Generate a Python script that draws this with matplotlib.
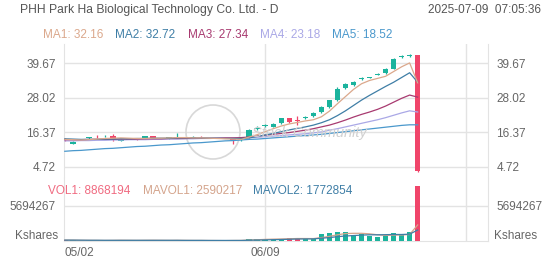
import matplotlib
matplotlib.use("Agg")
import matplotlib.pyplot as plt
import numpy as np
from matplotlib.patches import Circle

plt.rcParams['font.family'] = ['Liberation Sans', 'DejaVu Sans']

# ---------------- data ----------------
title = "PHH Park Ha Biological Technology Co. Ltd. - D"
stamp = "2025-07-09  07:05:36"
date_labels = ["05/02", "06/09"]
date_label_idx = [0, 25]

opens = [14.2, 12.5, 14.0, 14.4, 15.2, 15.1, 15.2, 13.6, 14.0, 14.1,
         14.1, 15.0, 14.4, 14.5, 14.7, 14.5, 14.6, 14.9, 14.4, 14.4,
         14.3, 14.1, 13.7, 14.8, 17.6, 18.7, 18.2, 19.4, 21.1, 20.5,
         21.3, 21.8, 23.2, 24.8, 27.4, 31.3, 32.3, 34.3, 34.8, 35.8,
         36.2, 37.7, 41.7, 42.0, 42.4]
highs = [14.6, 13.3, 14.0, 14.9, 15.6, 15.6, 15.9, 14.0, 14.0, 14.4,
         15.1, 15.1, 14.6, 14.9, 16.1, 14.5, 15.0, 15.3, 14.4, 14.4,
         14.3, 14.4, 14.0, 17.4, 18.4, 19.3, 19.6, 21.3, 21.3, 22.0,
         21.9, 23.1, 25.2, 27.4, 31.5, 32.8, 33.5, 34.8, 34.9, 36.4,
         37.9, 41.2, 42.2, 42.6, 42.5]
lows = [13.4, 12.3, 14.0, 14.2, 14.6, 14.7, 13.6, 13.4, 14.0, 13.8,
        14.0, 14.3, 14.3, 14.0, 14.3, 14.5, 14.4, 14.3, 14.4, 14.4,
        14.3, 12.5, 13.5, 14.6, 17.0, 18.3, 18.0, 19.2, 19.5, 19.0,
        21.0, 21.6, 23.0, 24.5, 26.9, 31.0, 32.1, 33.9, 34.7, 35.5,
        36.0, 37.5, 41.3, 41.6, 3.2]
closes = [13.8, 13.1, 14.0, 14.8, 15.1, 15.2, 13.9, 13.9, 14.0, 14.0,
          15.0, 14.4, 14.4, 14.6, 14.8, 14.5, 14.7, 14.7, 14.4, 14.4,
          14.3, 13.9, 13.9, 17.1, 17.8, 18.9, 19.3, 21.1, 19.7, 20.3,
          21.5, 22.9, 25.0, 27.2, 31.0, 32.6, 33.3, 34.5, 34.9, 36.0,
          37.6, 40.9, 41.8, 42.2, 3.3]

ma1 = [14.0, 13.9, 13.8, 13.9, 14.1, 14.3, 14.4, 14.5, 14.4, 14.3,
       14.3, 14.4, 14.4, 14.5, 14.6, 14.6, 14.5, 14.5, 14.4, 14.3,
       14.2, 14.1, 14.0, 14.8, 15.6, 16.6, 17.6, 18.5, 19.2, 19.7,
       20.2, 20.6, 21.6, 23.5, 26.0, 28.4, 30.8, 32.7, 33.8, 34.5,
       35.2, 36.8, 38.4, 39.7, 33.0]
ma2 = [14.2, 14.1, 14.0, 14.0, 14.0, 14.1, 14.1, 14.2, 14.2, 14.3,
       14.3, 14.4, 14.4, 14.4, 14.5, 14.5, 14.5, 14.5, 14.4, 14.4,
       14.3, 14.3, 14.3, 14.5, 15.0, 15.5, 16.0, 16.6, 17.2, 17.7,
       18.2, 18.8, 19.6, 20.6, 22.0, 23.6, 25.4, 27.2, 28.8, 30.3,
       31.8, 33.2, 34.8, 36.4, 33.2]
ma3 = [13.9, 13.9, 13.9, 14.0, 14.0, 14.0, 14.0, 14.1, 14.1, 14.1,
       14.2, 14.2, 14.2, 14.3, 14.3, 14.3, 14.4, 14.4, 14.4, 14.4,
       14.5, 14.5, 14.6, 14.8, 15.1, 15.4, 15.7, 16.0, 16.3, 16.7,
       17.1, 17.6, 18.2, 18.8, 19.6, 20.5, 21.5, 22.4, 23.2, 24.1,
       25.2, 26.5, 27.8, 28.9, 28.2]
ma4 = [13.5, 13.5, 13.6, 13.6, 13.7, 13.7, 13.8, 13.8, 13.9, 13.9,
       13.9, 14.0, 14.0, 14.1, 14.1, 14.2, 14.2, 14.3, 14.3, 14.4,
       14.4, 14.5, 14.5, 14.6, 14.7, 14.9, 15.1, 15.3, 15.5, 15.7,
       15.9, 16.2, 16.5, 17.1, 17.6, 18.2, 18.8, 19.4, 20.0, 20.6,
       21.3, 22.1, 22.9, 23.6, 23.2]
ma5 = [10.0, 10.2, 10.3, 10.5, 10.7, 10.9, 11.0, 11.2, 11.4, 11.6,
       11.7, 11.9, 12.1, 12.2, 12.4, 12.6, 12.8, 12.9, 13.1, 13.3,
       13.5, 13.6, 13.8, 14.0, 14.1, 14.3, 14.5, 14.7, 14.9, 15.1,
       15.3, 15.5, 15.7, 16.0, 16.3, 16.6, 16.9, 17.2, 17.5, 17.8,
       18.1, 18.4, 18.7, 18.9, 18.9]

volumes = [150000, 120000, 20000, 100000, 80000, 90000, 200000, 110000, 20000, 70000,
           130000, 160000, 60000, 90000, 120000, 30000, 80000, 100000, 30000, 30000,
           30000, 140000, 100000, 350000, 300000, 320000, 300000, 400000, 500000, 480000,
           300000, 380000, 1080000, 1240000, 1500000, 1400000, 970000, 1080000, 860000, 700000,
           860000, 1240000, 1080000, 1400000, 8868194]
mavol1 = [150000, 140000, 120000, 110000, 100000, 90000, 100000, 120000, 110000, 100000,
          110000, 120000, 110000, 100000, 110000, 100000, 90000, 90000, 80000, 70000,
          60000, 80000, 90000, 150000, 200000, 260000, 300000, 330000, 360000, 400000,
          400000, 390000, 550000, 750000, 1000000, 1200000, 1240000, 1240000, 1160000, 1000000,
          900000, 950000, 970000, 1050000, 2590217]
mavol2 = [140000, 140000, 130000, 120000, 120000, 110000, 110000, 110000, 110000, 110000,
          110000, 110000, 110000, 110000, 110000, 100000, 100000, 100000, 90000, 90000,
          90000, 90000, 90000, 120000, 150000, 180000, 210000, 240000, 280000, 320000,
          330000, 340000, 450000, 550000, 700000, 800000, 880000, 950000, 1000000, 1000000,
          1020000, 1050000, 1050000, 1100000, 1772854]

price_ticks = [4.72, 16.37, 28.02, 39.67]
vol_tick = 5694267

ma_names = ["MA1: 32.16", "MA2: 32.72", "MA3: 27.34", "MA4: 23.18", "MA5: 18.52"]
vol_names = ["VOL1: 8868194", "MAVOL1: 2590217", "MAVOL2: 1772854"]

# ---------------- style ----------------
UP = "#1bb39d"
DOWN = "#f0456a"
MA_COLORS = ["#dba88c", "#3f7ea6", "#a83a70", "#aaa8e6", "#4a98cc"]
VOL_COLORS = ["#f06a80", "#d4a48c", "#3f7ea6"]
GRID = "#e3e3e3"
TXT = "#666666"

W, H = 552, 265
fig = plt.figure(figsize=(W / 100, H / 100), dpi=100)
fig.patch.set_facecolor("white")


def px_axes(left, top, right, bottom):
    return fig.add_axes([left / W, 1 - bottom / H, (right - left) / W, (bottom - top) / H])


ax = px_axes(64, 44, 488, 178)
axv = px_axes(64, 178, 488, 241)

n = len(closes)
x = np.arange(n)
xlim = (-0.1, 52.77)
bw = 0.7

# ---- price candles ----
for i in range(n):
    o, h, l, c = opens[i], highs[i], lows[i], closes[i]
    col = UP if c >= o else DOWN
    ax.vlines(x[i], l, h, color=col, lw=0.9, zorder=3)
    bh = max(abs(c - o), 0.3)
    ax.bar(x[i], bh, bottom=min(o, c) - (bh - abs(c - o)) / 2, width=bw,
           color=col, edgecolor=col, linewidth=0, zorder=3)

for vals, col in zip([ma5, ma4, ma3, ma2, ma1], MA_COLORS[::-1]):
    ax.plot(x, vals, color=col, lw=0.9, zorder=4)

ax.set_xlim(*xlim)
ax.set_ylim(1.02, 46.06)
ax.set_yticks(price_ticks)
ax.set_yticklabels([f"{v:.2f}" for v in price_ticks])
ax.set_xticks([25, 50])
ax.set_xticklabels([])
ax.grid(True, color=GRID, lw=1)
ax.tick_params(axis="both", length=0, labelsize=8.5, labelcolor=TXT,
               labelleft=True, labelright=True, pad=6)
for s in ["top", "bottom"]:
    ax.spines[s].set_visible(False)
for s in ["left", "right"]:
    ax.spines[s].set_color(GRID)

# watermark
ax.add_patch(Circle((213, H - 132), 27, transform=None, fill=False,
                    edgecolor="#d8d8d8", lw=1.2, zorder=2))
fig.text(367 / W, 1 - 133 / H, "Stock Community", ha="right", va="center",
         fontsize=10.5, color="#d0d0d0", style="italic", zorder=2)

# ---- volume ----
vcols = [UP if closes[i] >= opens[i] else DOWN for i in range(n)]
axv.bar(x, volumes, width=bw, color=vcols, linewidth=0, zorder=3)
axv.plot(x, mavol1, color=VOL_COLORS[1], lw=0.9, zorder=4)
axv.plot(x, mavol2, color=VOL_COLORS[2], lw=0.9, zorder=4)
axv.set_xlim(*xlim)
axv.set_ylim(0, 10.16e6)
axv.set_yticks([vol_tick])
axv.set_yticklabels([str(vol_tick)])
axv.grid(True, color=GRID, lw=1)
axv.tick_params(axis="both", length=0, labelsize=8.5, labelcolor=TXT,
                labelleft=True, labelright=True, pad=6)
axv.set_xticks(date_label_idx)
axv.set_xticklabels(date_labels)
axv.xaxis.grid(False)
for xv in [25, 50]:
    axv.axvline(xv, color=GRID, lw=1, zorder=0)
labs = axv.get_xticklabels()
labs[0].set_horizontalalignment("left")
axv.tick_params(axis="x", pad=4)
axv.spines["top"].set_visible(False)
for s in ["left", "right", "bottom"]:
    axv.spines[s].set_color(GRID)
axv.text(-0.015, 0.08, "Kshares", transform=axv.transAxes, ha="right",
         va="center", fontsize=8.5, color=TXT)
axv.text(1.015, 0.08, "Kshares", transform=axv.transAxes, ha="left",
         va="center", fontsize=8.5, color=TXT)

# ---- texts ----
fig.text(20 / W, 1 - 10 / H, title, ha="left", va="center", fontsize=8.7, color="#555555")
fig.text(541 / W, 1 - 10 / H, stamp, ha="right", va="center", fontsize=8.5, color="#555555")

ma_x = [43, 115, 188, 260, 332]
for xx, name, col in zip(ma_x, ma_names, MA_COLORS):
    fig.text(xx / W, 1 - 35 / H, name, ha="left", va="center", fontsize=8.5, color=col)

vol_x = [48, 143, 253]
for xx, name, col in zip(vol_x, vol_names, VOL_COLORS):
    fig.text(xx / W, 1 - 191 / H, name, ha="left", va="center", fontsize=8.5, color=col)

fig.savefig("out.png", dpi=100, facecolor="white")
